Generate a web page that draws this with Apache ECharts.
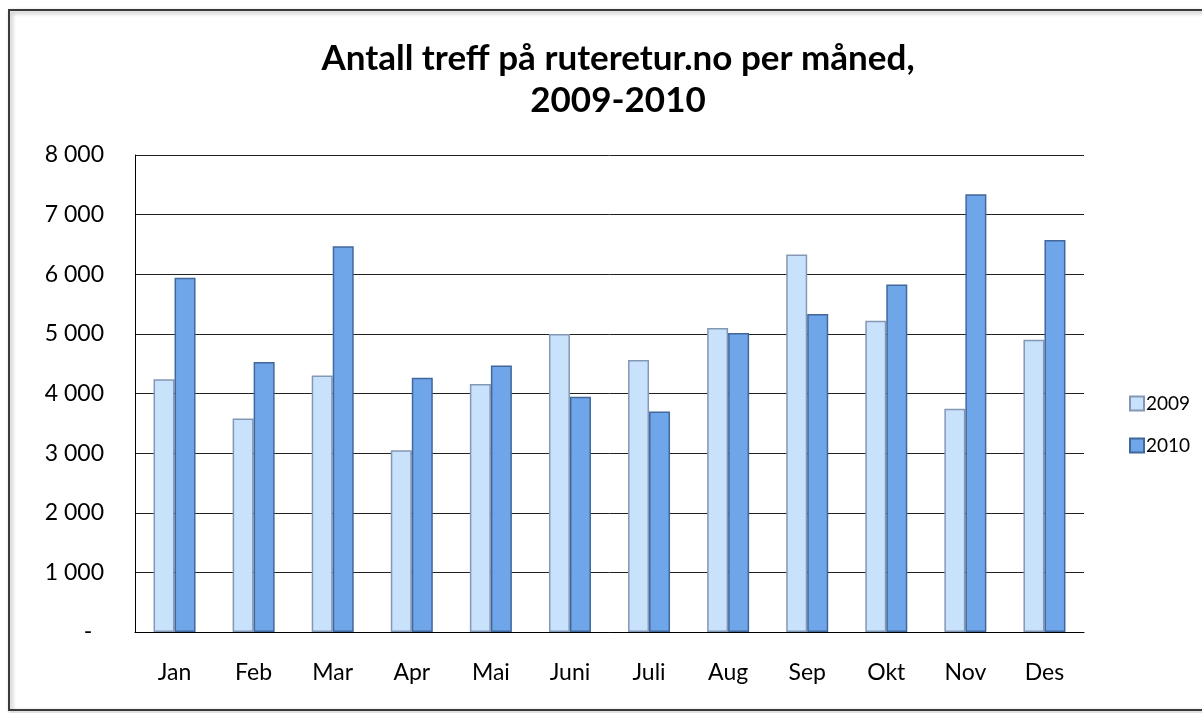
<!DOCTYPE html>
<html>
<head>
<meta charset="utf-8">
<script src="https://cdn.jsdelivr.net/npm/echarts@6/dist/echarts.min.js"></script>
<style>
html,body{margin:0;padding:0;background:#fff;}
#c{width:1202px;height:713px;}
</style>
</head>
<body>
<div id="c"></div>
<script>
const months = ['Jan','Feb','Mar','Apr','Mai','Juni','Juli','Aug','Sep','Okt','Nov','Des'];
const values2009 = [4240, 3580, 4300, 3050, 4160, 5000, 4560, 5100, 6330, 5220, 3745, 4900];
const values2010 = [5940, 4530, 6470, 4265, 4470, 3945, 3700, 5015, 5335, 5830, 7340, 6575];
const seriesNames = ['2009', '2010'];
const titleText = 'Antall treff på ruteretur.no per måned,\n2009-2010';

const font = 'Lato, "Open Sans", "Noto Sans", sans-serif';
const chart = echarts.init(document.getElementById('c'));
chart.setOption({
  backgroundColor: '#fff',
  animation: false,
  textStyle: {fontFamily: font, color: '#000'},
  title: {
    text: titleText,
    left: 613, top: 33, textAlign: 'center',
    textStyle: {fontFamily: font, fontSize: 35, fontWeight: 'bold', color: '#000', lineHeight: 42}
  },
  graphic: [{
    type: 'rect', silent: true, z: -1,
    shape: {x: 9, y: 10, width: 1200, height: 700},
    style: {fill: 'none', stroke: '#3a3a3a', lineWidth: 2,
            shadowBlur: 4, shadowColor: 'rgba(0,0,0,0.35)', shadowOffsetX: 2, shadowOffsetY: 2}
  }],
  legend: {
    orient: 'vertical', left: 1124, top: 389,
    itemWidth: 14, itemHeight: 14, itemGap: 23, icon: 'rect',
    textStyle: {fontFamily: font, fontSize: 19, color: '#000', padding: [0,0,0,-3]},
    data: seriesNames
  },
  grid: {left: 135, right: 118, top: 155, bottom: 81},
  xAxis: {
    type: 'category', data: months,
    axisLine: {lineStyle: {color: '#000', width: 1}},
    axisTick: {show: false},
    axisLabel: {fontFamily: font, fontSize: 23, color: '#000', margin: 29}
  },
  yAxis: {
    type: 'value', min: 0, max: 8000, interval: 1000,
    axisLine: {show: true, lineStyle: {color: '#000', width: 1}},
    axisTick: {show: false},
    splitLine: {lineStyle: {color: '#222', width: 1}},
    axisLabel: {
      fontFamily: font, fontSize: 23, color: '#000', margin: 31,
      formatter: v => v === 0 ? '-  ' : String(v).replace(/\B(?=(\d{3})+(?!\d))/g, ' ')
    }
  },
  series: [
    {
      name: seriesNames[0], type: 'bar', data: values2009,
      barWidth: 21, barGap: '0%',
      itemStyle: {color: '#C9E2FC', borderColor: '#8497B5', borderWidth: 1.5}
    },
    {
      name: seriesNames[1], type: 'bar', data: values2010,
      barWidth: 21,
      itemStyle: {color: '#6FA6EA', borderColor: '#41679B', borderWidth: 1.5}
    }
  ]
});
</script>
</body>
</html>
